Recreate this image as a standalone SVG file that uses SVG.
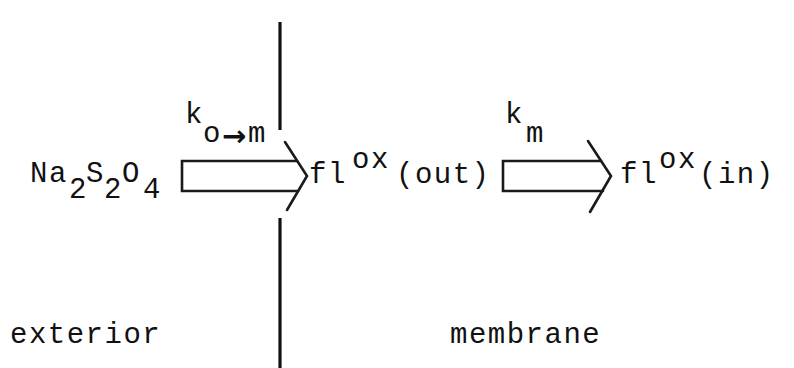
<svg xmlns="http://www.w3.org/2000/svg" width="794" height="368" viewBox="0 0 794 368">
<style>
.t{font-family:"Liberation Mono","DejaVu Sans Mono",monospace;font-size:29px;letter-spacing:1.5px;fill:#111}
.ar{font-family:"DejaVu Sans","Liberation Sans",sans-serif;font-size:29px;font-weight:bold;fill:#111}
.ln{fill:none;stroke:#1a1a1a;stroke-width:2.6;stroke-linecap:round;stroke-linejoin:miter}
.mem{fill:none;stroke:#111;stroke-width:3.2}
</style>
<rect width="794" height="368" fill="#fff"/>
<g id="membrane-boundary">
<line class="mem" x1="280" y1="22" x2="280" y2="130"/>
<line class="mem" x1="280" y1="218" x2="280" y2="368"/>
</g>
<g id="connectors">
<path class="ln" d="M297,161 L182,161 L182,191 L298,191"/>
<path class="ln" d="M285,142 L307,176 L287,210"/>
<path class="ln" d="M601,161 L503,161 L503,191 L603,191"/>
<path class="ln" d="M588,141 L611,176 L590,212"/>
</g>
<g id="label-ko-m">
<text class="t" x="185" y="123">k</text>
<text class="t" x="203" y="142" style="letter-spacing:0">o</text>
<text class="ar" x="222" y="146">→</text>
<text class="t" x="248" y="142">m</text>
</g>
<g id="label-km">
<text class="t" x="505" y="123">k</text>
<text class="t" x="526" y="142">m</text>
</g>
<g id="node-na2s2o4">
<text class="t" x="30" y="182">Na</text>
<text class="t" x="69" y="198">2</text>
<text class="t" x="86" y="182">S</text>
<text class="t" x="104" y="198">2</text>
<text class="t" x="122" y="182">O</text>
<text class="t" x="143" y="198">4</text>
</g>
<g id="node-fl-out">
<text class="t" x="309" y="183">fl</text>
<text class="t" x="352" y="168">ox</text>
<text class="t" x="396" y="183">(out)</text>
</g>
<g id="node-fl-in">
<text class="t" x="620" y="183">fl</text>
<text class="t" x="659" y="168">ox</text>
<text class="t" x="699" y="183">(in)</text>
</g>
<g id="region-labels">
<text class="t" x="10" y="343">exterior</text>
<text class="t" x="450" y="343">membrane</text>
</g>
</svg>
